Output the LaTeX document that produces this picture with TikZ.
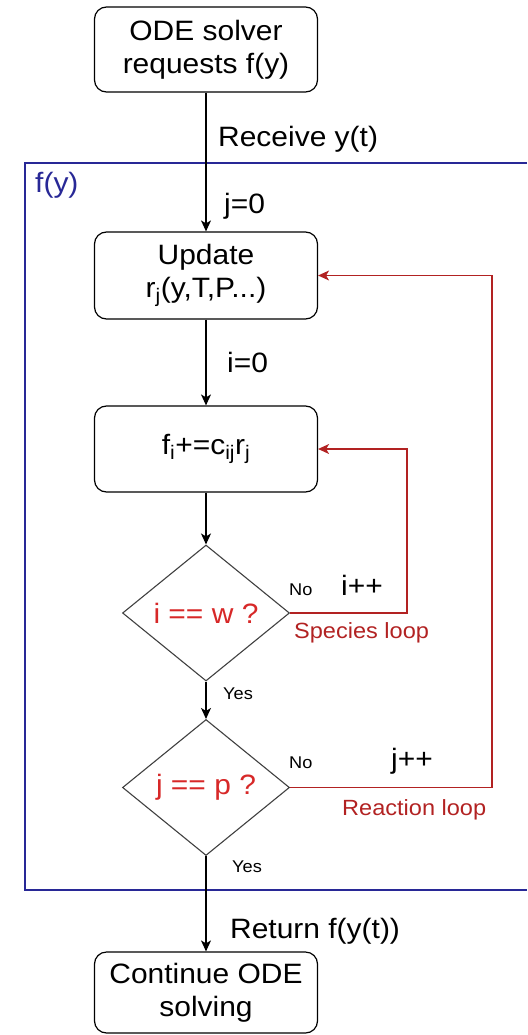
\documentclass[tikz,border=0pt]{standalone}
\usepackage{fontspec}
\setmainfont{Liberation Sans}[FakeStretch=1.07]
\usetikzlibrary{shapes.geometric,arrows.meta}
\definecolor{loopred}{RGB}{178,34,34}
\definecolor{condred}{RGB}{215,40,40}
\definecolor{framblue}{RGB}{40,40,150}
\tikzset{
  stepbox/.style={draw=black, line width=1.2pt, rounded corners=12pt,
    minimum width=223pt, inner sep=0pt, align=center,
    font=\fontsize{28}{33}\selectfont},
  decision/.style={draw=black!75, line width=1.1pt, diamond, aspect=1.23,
    minimum width=167pt, minimum height=136pt, inner sep=0pt,
    text=condred, font=\fontsize{28}{33}\selectfont},
  flow/.style={draw=black, line width=1.2pt, -{Stealth[length=11pt,width=10pt,inset=3pt]}},
  loopflow/.style={draw=loopred, line width=1.2pt, -{Stealth[length=11pt,width=10pt,inset=3pt]}},
  biglabel/.style={anchor=base west, inner sep=0pt, font=\fontsize{28}{33}\selectfont},
  smalllabel/.style={anchor=base west, inner sep=0pt, font=\fontsize{17}{20}\selectfont},
  looplabel/.style={anchor=base west, inner sep=0pt, text=loopred, font=\fontsize{22}{26}\selectfont},
}
\begin{document}
\begin{tikzpicture}[x=1pt,y=-1pt]
\useasboundingbox (0,0) rectangle (527,1035);

% f(y) frame, open on the right
\coordinate (frTR) at (527,163);
\coordinate (frBL) at (25,890);
\coordinate (frBR) at (527,890);
\draw[framblue, line width=1.2pt] (frTR) -| (frBL) -- (frBR);
\node[biglabel, text=framblue] (fylab) at (35,193) {f(y)};

% steps
\node[stepbox, minimum height=85pt] (req) at (206,49.5) {ODE solver\\requests f(y)};
\node[stepbox, minimum height=87pt] (upd) at (206,275.5) {Update\\r\textsubscript{j}(y,T,P...)};
\node[stepbox, minimum height=86pt] (acc) at (206,449) {f\textsubscript{i}+=c\textsubscript{ij}r\textsubscript{j}};
\node[decision] (dw) at (206,613) {i == w ?};
\node[decision] (dp) at (206,787.5) {j == p ?};
\node[stepbox, minimum height=81pt] (cont) at (206,992.5) {Continue ODE\\solving};

% main flow
\draw[flow] (req) -- (upd);
\draw[flow] (upd) -- (acc);
\draw[flow] (acc) -- (dw);
\draw[flow] (dw) -- (dp);
\draw[flow] (dp) -- (cont);

% loops
\coordinate (spc) at (407,613);
\coordinate (rxc) at (492,787.5);
\draw[loopflow] (dw.east) -- (spc) |- (acc.east);
\draw[loopflow] (dp.east) -- (rxc) |- (upd.east);

% labels
\node[biglabel] (recv) at (218,147) {Receive y(t)};
\node[biglabel] (jzero) at (224,213) {j=0};
\node[biglabel] (izero) at (227,372) {i=0};
\node[smalllabel] (no1) at (289,595) {No};
\node[biglabel] (iinc) at (341,595) {i++};
\node[looplabel] (splab) at (294,638) {Species loop};
\node[smalllabel] (yes1) at (223,699) {Yes};
\node[smalllabel] (no2) at (289,768) {No};
\node[biglabel] (jinc) at (391,768) {j++};
\node[looplabel] (rxlab) at (342,815) {Reaction loop};
\node[smalllabel] (yes2) at (232,872) {Yes};
\node[biglabel] (ret) at (230,938) {Return f(y(t))};
\end{tikzpicture}
\end{document}
